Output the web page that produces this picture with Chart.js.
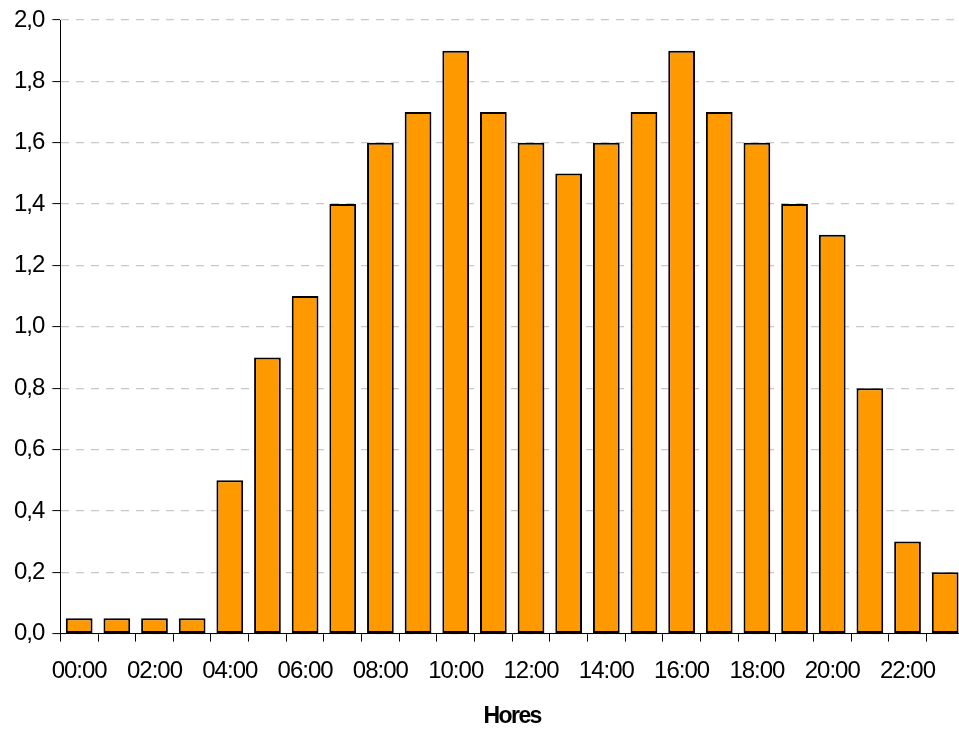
<!DOCTYPE html>
<html>
<head>
<meta charset="utf-8">
<script src="https://cdn.jsdelivr.net/npm/chart.js@4"></script>
<style>
  html, body { margin: 0; padding: 0; background: #fff; overflow: hidden; width: 959px; height: 731px; }
  canvas { display: block; }
</style>
</head>
<body>
<canvas id="c" width="964" height="731"></canvas>
<script>
const categories = ['00:00','01:00','02:00','03:00','04:00','05:00','06:00','07:00','08:00','09:00','10:00','11:00',
                    '12:00','13:00','14:00','15:00','16:00','17:00','18:00','19:00','20:00','21:00','22:00','23:00'];
const values = [0.05,0.05,0.05,0.05,0.5,0.9,1.1,1.4,1.6,1.7,1.9,1.7,1.6,1.5,1.6,1.7,1.9,1.7,1.6,1.4,1.3,0.8,0.3,0.2];
const yMin = 0, yMax = 2.0, yStep = 0.2;
const xTitle = 'Hores';

const spacingPlugin = {
  id: 'spacing',
  beforeUpdate(chart) { chart.ctx.letterSpacing = '-1px'; },
  beforeDraw(chart) { chart.ctx.letterSpacing = '-1px'; },
  afterLayout(chart) {
    const s = chart.scales.x;
    if (!s._wrapped) {
      const orig = s.drawTitle;
      s.drawTitle = function () {
        const ctx = this.ctx;
        const prev = ctx.letterSpacing;
        ctx.letterSpacing = '-1.6px';
        orig.apply(this, arguments);
        ctx.letterSpacing = prev;
      };
      s._wrapped = true;
    }
  }
};

new Chart(document.getElementById('c'), {
  type: 'bar',
  data: {
    labels: categories,
    datasets: [{
      data: values,
      backgroundColor: '#FF9900',
      borderColor: '#000000',
      borderWidth: 2,
      borderSkipped: false,
      barPercentage: 0.71,
      categoryPercentage: 1.0
    }]
  },
  options: {
    responsive: false,
    animation: false,
    layout: { padding: { left: 6, right: 0, top: 20, bottom: 1 } },
    plugins: { legend: { display: false }, tooltip: { enabled: false } },
    scales: {
      x: {
        offset: true,
        grid: {
          offset: true,
          drawOnChartArea: false,
          drawTicks: true,
          tickLength: 8,
          tickColor: '#000000',
          tickWidth: 1
        },
        border: { display: true, color: '#000000', width: 1 },
        ticks: {
          autoSkip: false,
          maxRotation: 0,
          minRotation: 0,
          padding: 15,
          color: '#000000',
          font: { family: '"Liberation Sans", Arial, sans-serif', size: 24 },
          callback: function (v, i) { return i % 2 === 0 ? categories[i] : ''; }
        },
        title: {
          display: true,
          text: xTitle,
          color: '#000000',
          font: { family: '"Liberation Sans", Arial, sans-serif', size: 23, weight: 'bold' },
          padding: { top: 2, bottom: 0 }
        }
      },
      y: {
        min: yMin,
        max: yMax,
        grid: {
          color: '#c8c8c8',
          lineWidth: 1.2,
          drawTicks: true,
          tickLength: 8,
          tickColor: '#000000',
          tickWidth: 1,
          tickBorderDash: []
        },
        border: { display: true, color: '#000000', width: 1, dash: [8, 7] },
        ticks: {
          stepSize: yStep,
          padding: 8,
          color: '#000000',
          font: { family: '"Liberation Sans", Arial, sans-serif', size: 24, lineHeight: 1.0 },
          callback: function (v) { return v.toFixed(1).replace('.', ','); }
        }
      }
    }
  },
  plugins: [spacingPlugin]
});
</script>
</body>
</html>
